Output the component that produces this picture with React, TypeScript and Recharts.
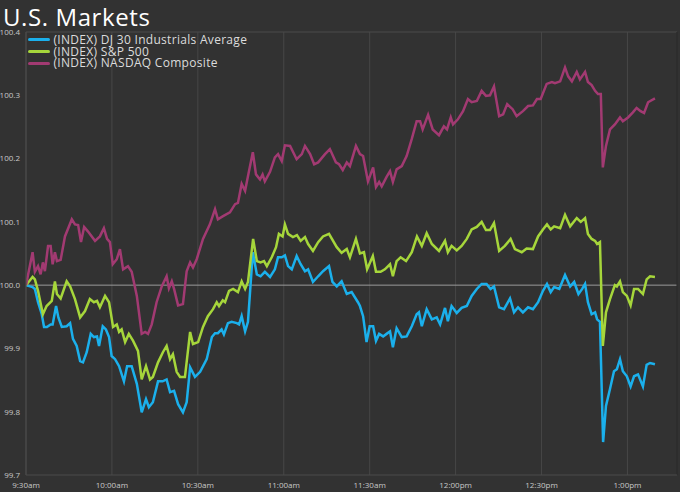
import React from 'react';
import { LineChart, Line, XAxis, YAxis, CartesianGrid, ReferenceLine } from 'recharts';

// minutes after 9:30am
const djMinutes = [0, 1.4, 2.3, 3.1, 4.2, 5.5, 6.3, 7.3, 8.6, 9.3, 10.5, 11.3, 12.5, 14.2, 15.4, 16.4, 17.7, 18.9, 19.9, 21.2, 22.6, 23.7, 24.8, 25.5, 26.8, 27.9, 29, 29.9, 31.1, 32.5, 34.2, 35.3, 36.9, 38.7, 40.4, 41.9, 42.9, 44.3, 46.1, 47.7, 49.1, 50.3, 51.7, 53.1, 54.8, 56.1, 57.3, 59, 60.8, 63.1, 64.9, 66, 67, 68.3, 69.1, 70.5, 71.8, 73.6, 74.4, 75.3, 76.5, 77.5, 79.2, 80.6, 81.9, 83.4, 85.2, 86.9, 88, 89.3, 90.4, 91.5, 92.8, 94.5, 95.9, 97.4, 98.5, 100.2, 102, 103.7, 105.8, 107, 108.5, 110.2, 112, 113.7, 115.9, 116.6, 117.7, 118.9, 120, 121.2, 122.2, 123.3, 124.7, 125.9, 127.1, 128.1, 129.4, 131.2, 132.9, 134.7, 136.4, 137.2, 138.2, 139.9, 141.7, 143.4, 144.6, 146.3, 147.3, 148.6, 150.4, 152.1, 153.9, 155.6, 157.4, 159.1, 160.8, 162.2, 163.4, 165.2, 166.9, 169, 170.4, 171.8, 173.5, 175.3, 177, 178.8, 180.5, 181.9, 183.2, 184.4, 186.2, 188.2, 190, 191.4, 192.9, 194.2, 195.2, 196.2, 197.5, 198.7, 199.4, 200.4, 201.5, 202.5, 203.9, 205.3, 206.3, 207.4, 208.4, 209.8, 211.1, 212.3, 213.7, 215.4, 216.7, 217.9, 219.6];
const djValues = [100.0, 99.998, 99.997, 99.994, 99.973, 99.954, 99.934, 99.934, 99.938, 99.938, 99.967, 99.949, 99.934, 99.935, 99.94, 99.915, 99.904, 99.88, 99.878, 99.894, 99.923, 99.918, 99.919, 99.904, 99.935, 99.93, 99.918, 99.888, 99.883, 99.872, 99.848, 99.872, 99.872, 99.844, 99.799, 99.82, 99.807, 99.815, 99.848, 99.848, 99.851, 99.831, 99.833, 99.812, 99.799, 99.815, 99.87, 99.855, 99.863, 99.883, 99.918, 99.924, 99.924, 99.93, 99.922, 99.94, 99.942, 99.94, 99.938, 99.951, 99.927, 99.942, 100.052, 100.017, 100.014, 100.021, 100.013, 100.025, 100.044, 100.044, 100.047, 100.03, 100.025, 100.046, 100.033, 100.022, 100.025, 100.005, 100.014, 100.022, 100.03, 100.005, 99.998, 100.006, 99.986, 99.989, 99.973, 99.967, 99.951, 99.91, 99.935, 99.935, 99.912, 99.923, 99.919, 99.923, 99.927, 99.902, 99.932, 99.918, 99.919, 99.935, 99.954, 99.957, 99.935, 99.962, 99.946, 99.949, 99.938, 99.964, 99.943, 99.967, 99.956, 99.964, 99.967, 99.983, 99.994, 100.002, 100.002, 99.994, 99.998, 99.965, 99.962, 99.979, 99.957, 99.965, 99.957, 99.965, 99.962, 99.973, 99.991, 100.002, 99.989, 99.997, 99.994, 100.016, 99.998, 100.005, 99.986, 99.994, 100.002, 99.973, 99.954, 99.957, 99.946, 99.942, 99.752, 99.809, 99.836, 99.864, 99.867, 99.883, 99.864, 99.856, 99.84, 99.856, 99.859, 99.84, 99.874, 99.877, 99.875];

const spMinutes = [0, 2.3, 3.1, 4.2, 5.9, 7.2, 9, 10.1, 10.8, 12.1, 14.2, 15.4, 17.1, 18.9, 20.6, 22.3, 23.7, 24.8, 25.8, 27.6, 29, 30.4, 31.7, 32.5, 33.4, 34.6, 35.9, 37.4, 39.1, 40.4, 41.9, 43.3, 44.3, 46.1, 47.8, 49.1, 50.3, 51.3, 52.6, 53.8, 55.5, 57.3, 58.3, 60.1, 61.8, 63.5, 65.3, 66.6, 67.4, 68.7, 69.5, 70.9, 72.3, 74, 75.3, 76.5, 77.5, 79.3, 80.6, 81.9, 83.1, 84.1, 85.8, 87.3, 88.3, 89.6, 90.4, 91.5, 93.2, 94.6, 95.9, 97.4, 98.5, 100.2, 102, 103.7, 105.8, 108.5, 110.2, 112, 113.1, 115.2, 116.6, 118, 119.1, 121.1, 122.2, 123.8, 125.3, 127.1, 128.1, 129.4, 130.8, 132.7, 134.7, 136.5, 138.2, 139.9, 141.7, 144.2, 146.3, 147.3, 148.6, 150.4, 152.1, 153.9, 155.6, 157.4, 159.1, 160.6, 162, 163.4, 165.2, 167.2, 169.2, 170.7, 173.1, 174.8, 177, 178.8, 180.5, 181.9, 183.2, 184.4, 186.5, 188.2, 190, 192.3, 193.7, 195.2, 196.2, 197.5, 198.7, 199.4, 200.4, 201.4, 202.5, 203.9, 205.6, 206.3, 207.4, 208.4, 209.8, 211.1, 212.3, 213.7, 215.4, 216.7, 217.9, 219.6];
const spValues = [100.0, 100.013, 100.009, 99.991, 99.954, 99.967, 99.975, 100.006, 99.986, 99.979, 100.006, 99.998, 99.978, 99.949, 99.959, 99.978, 99.973, 99.975, 99.965, 99.983, 99.973, 99.934, 99.938, 99.926, 99.93, 99.91, 99.923, 99.912, 99.896, 99.851, 99.872, 99.851, 99.855, 99.878, 99.894, 99.904, 99.883, 99.891, 99.863, 99.855, 99.855, 99.926, 99.907, 99.91, 99.934, 99.951, 99.962, 99.973, 99.967, 99.976, 99.973, 99.991, 99.994, 99.989, 100.006, 99.994, 100.005, 100.073, 100.038, 100.036, 100.038, 100.03, 100.044, 100.06, 100.081, 100.077, 100.096, 100.081, 100.076, 100.079, 100.07, 100.076, 100.065, 100.054, 100.068, 100.077, 100.081, 100.06, 100.051, 100.057, 100.044, 100.073, 100.05, 100.052, 100.025, 100.046, 100.021, 100.021, 100.025, 100.033, 100.014, 100.038, 100.044, 100.038, 100.052, 100.077, 100.062, 100.082, 100.065, 100.054, 100.07, 100.052, 100.062, 100.055, 100.062, 100.073, 100.088, 100.092, 100.1, 100.087, 100.087, 100.098, 100.054, 100.062, 100.073, 100.057, 100.052, 100.058, 100.057, 100.077, 100.088, 100.096, 100.088, 100.093, 100.09, 100.111, 100.093, 100.106, 100.1, 100.106, 100.081, 100.073, 100.07, 100.065, 100.068, 99.904, 99.957, 99.978, 100.0, 99.998, 100.006, 99.989, 99.983, 99.968, 99.994, 99.994, 99.986, 100.009, 100.014, 100.013];

const nqMinutes = [0, 2.3, 3.1, 4.2, 5.1, 5.9, 6.6, 7.7, 8.6, 9.3, 10.1, 10.8, 12.1, 13.6, 16, 17.1, 18.2, 19.2, 20.3, 21.6, 24.1, 25.8, 27.2, 28.3, 29.3, 30.3, 31.7, 32.8, 33.9, 35.6, 36.9, 38.7, 40.4, 41.6, 42.6, 43.9, 45.6, 47.4, 49.1, 49.9, 50.9, 51.7, 53.1, 54.8, 56.1, 57.3, 58.3, 59.6, 61.8, 64.2, 66, 67, 68.8, 71.2, 73, 74, 75.3, 76.5, 77.5, 79.2, 80.3, 81.7, 82.6, 83.4, 85.2, 86.9, 88, 89.3, 90.4, 92.2, 94.5, 96.3, 97.4, 99.2, 100.6, 102, 104.4, 106.1, 108.2, 109.3, 110.6, 112, 113.1, 115.2, 116.6, 117.7, 119.4, 121.2, 122.2, 123.3, 124.2, 125.9, 127.1, 128.1, 129.4, 131.2, 132.9, 134.7, 136.4, 137.6, 138.5, 140.4, 142, 144.2, 145.9, 147, 148.3, 149.1, 150.8, 152.6, 154.3, 155.6, 157.4, 159.1, 160.6, 162, 163.4, 165.2, 166.6, 168, 169.9, 171.3, 173.5, 175.3, 177, 178.4, 179.7, 181.8, 183.6, 184.7, 186.5, 188.2, 189.3, 190.6, 192.3, 193.4, 195.2, 196.2, 197.5, 198.7, 199.7, 200.7, 201.4, 202.5, 203.9, 205.6, 207.4, 208.4, 210.2, 211.9, 213.2, 214.6, 215.8, 217.2, 219.6];
const nqValues = [100.0, 100.052, 100.021, 100.03, 100.017, 100.036, 100.022, 100.062, 100.062, 100.033, 100.052, 100.038, 100.04, 100.077, 100.104, 100.096, 100.095, 100.068, 100.092, 100.085, 100.07, 100.077, 100.09, 100.073, 100.068, 100.033, 100.041, 100.057, 100.025, 100.03, 100.021, 99.983, 99.923, 99.926, 99.923, 99.938, 99.973, 99.998, 100.014, 99.995, 100.006, 99.994, 99.968, 99.97, 100.022, 100.036, 100.028, 100.041, 100.073, 100.096, 100.12, 100.104, 100.109, 100.115, 100.128, 100.13, 100.16, 100.149, 100.172, 100.21, 100.175, 100.167, 100.175, 100.164, 100.179, 100.202, 100.207, 100.196, 100.221, 100.22, 100.199, 100.207, 100.22, 100.207, 100.191, 100.194, 100.207, 100.215, 100.194, 100.191, 100.182, 100.194, 100.188, 100.22, 100.207, 100.204, 100.164, 100.186, 100.155, 100.163, 100.156, 100.171, 100.18, 100.163, 100.183, 100.188, 100.204, 100.231, 100.259, 100.259, 100.246, 100.269, 100.246, 100.237, 100.251, 100.246, 100.265, 100.254, 100.262, 100.275, 100.294, 100.289, 100.291, 100.307, 100.299, 100.3, 100.314, 100.267, 100.27, 100.286, 100.278, 100.267, 100.275, 100.283, 100.284, 100.294, 100.294, 100.318, 100.321, 100.319, 100.322, 100.344, 100.33, 100.322, 100.337, 100.325, 100.337, 100.321, 100.316, 100.307, 100.302, 100.302, 100.186, 100.22, 100.246, 100.254, 100.265, 100.259, 100.265, 100.273, 100.28, 100.275, 100.272, 100.289, 100.295];

const timeTicks = [0, 30, 60, 90, 120, 150, 180, 210];
const timeLabels = ['9:30am', '10:00am', '10:30am', '11:00am', '11:30am', '12:00pm', '12:30pm', '1:00pm'];
const valueTicks = [99.7, 99.8, 99.9, 100.0, 100.1, 100.2, 100.3, 100.4];

const seriesNames = ['(INDEX) DJ 30 Industrials Average', '(INDEX) S&P 500', '(INDEX) NASDAQ Composite'];
const seriesColors = ['#1bb0ec', '#a6d63b', '#a23a72'];

const toRows = (minutes: number[], values: number[]) =>
  minutes.map((t, i) => ({ t, v: values[i] }));

const series = [
  toRows(djMinutes, djValues),
  toRows(spMinutes, spValues),
  toRows(nqMinutes, nqValues),
];

const FONT = '"Open Sans", "DejaVu Sans", sans-serif';

export default function App() {
  return (
    <div style={{ position: 'absolute', left: 0, top: 0, width: 680, height: 492, background: '#323232', fontFamily: FONT }}>
      <LineChart width={680} height={492} margin={{ top: 32, right: 3, left: 0, bottom: 0 }}>
        <CartesianGrid horizontal={false} stroke="#474747" />
        <XAxis
          type="number"
          dataKey="t"
          domain={[0, 227.3]}
          ticks={timeTicks}
          tickFormatter={(t: number) => timeLabels[timeTicks.indexOf(t)]}
          height={17}
          tickSize={0}
          tickMargin={7}
          axisLine={{ stroke: '#4a4a4a' }}
          tick={{ fill: '#c8c8c8', fontSize: 8, fontFamily: FONT }}
          allowDataOverflow
        />
        <YAxis
          type="number"
          domain={[99.7, 100.4]}
          ticks={valueTicks}
          tickFormatter={(v: number) => v.toFixed(1)}
          width={26}
          tickSize={0}
          tickMargin={6}
          axisLine={{ stroke: '#4a4a4a' }}
          tick={{ fill: '#c8c8c8', fontSize: 8, fontFamily: FONT }}
          allowDataOverflow
        />
        <ReferenceLine y={100.4} stroke="#4a4a4a" />
        <ReferenceLine y={100.0} stroke="#9a9a9a" />
        <ReferenceLine x={227.3} stroke="#1e1e1e" />
        {series.map((rows, i) => (
          <Line
            key={seriesNames[i]}
            data={rows}
            dataKey="v"
            name={seriesNames[i]}
            type="linear"
            stroke={seriesColors[i]}
            strokeWidth={2.5}
            dot={false}
            isAnimationActive={false}
          />
        ))}
      </LineChart>
      <div style={{ position: 'absolute', left: 3, top: 0, fontSize: 24, color: '#ffffff', lineHeight: '33px', letterSpacing: 0.6 }}>
        U.S. Markets
      </div>
      <div style={{ position: 'absolute', left: 28, top: 34 }}>
        {seriesNames.map((name, i) => (
          <div key={name} style={{ display: 'flex', alignItems: 'center', height: 11.7, lineHeight: '11.7px', color: '#dcdcdc', fontSize: 12, letterSpacing: 0.3 }}>
            <span style={{ display: 'inline-block', width: 22, height: 3, borderRadius: 2, background: seriesColors[i], marginRight: 3.5 }} />
            <span>{name}</span>
          </div>
        ))}
      </div>
    </div>
  );
}
